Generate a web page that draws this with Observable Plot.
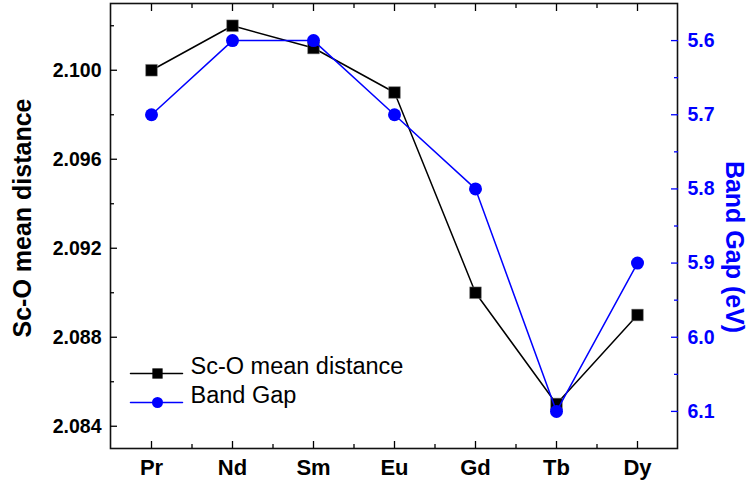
<!DOCTYPE html>
<html><head><meta charset="utf-8">
<script src="https://cdn.jsdelivr.net/npm/d3@7"></script>
<script src="https://cdn.jsdelivr.net/npm/@observablehq/plot@0.6"></script>
<style>
body{margin:0;background:#fff}
svg{font-family:"Liberation Sans",Arial,Helvetica,sans-serif}
</style>
</head><body><div id="chart"></div>
<script>
const elements = ["Pr","Nd","Sm","Eu","Gd","Tb","Dy"];
const scoDistance = [2.100,2.102,2.101,2.099,2.090,2.085,2.089];
const bandGap = [5.7,5.6,5.6,5.7,5.8,6.1,5.9];
const leftTicks = [2.084,2.088,2.092,2.096,2.100];
const leftMinor = [2.086,2.090,2.094,2.098,2.102];
const rightTicks = [5.6,5.7,5.8,5.9,6.0,6.1];
const rightMinor = [5.65,5.75,5.85,5.95,6.05];
const leftDomain = [2.083, 2.103];
const rightDomain = [5.55, 6.15];
const legendLabels = ["Sc-O mean distance","Band Gap"];
const leftTitle = "Sc-O mean distance";
const rightTitle = "Band Gap (eV)";

const W = 750, H = 483, ML = 110, MR = 73, MT = 3, MB = 35;
const step = (W - ML - MR) / elements.length;
const toY = d3.scaleLinear(rightDomain, [leftDomain[1], leftDomain[0]]);
const rows = elements.map((el, i) => ({el, sco: scoDistance[i], bg: bandGap[i]}));
const lineShape = {draw(ctx, l) { ctx.moveTo(0, 0); ctx.lineTo(0, -l); }};
const none = () => "";

const chart = Plot.plot({
  width: W, height: H,
  marginLeft: ML, marginRight: MR, marginTop: MT, marginBottom: MB,
  style: {color: "black", background: "white"},
  x: {type: "point", domain: elements, padding: 0.5},
  y: {domain: leftDomain},
  marks: [
    Plot.frame({stroke: "#111", strokeWidth: 1.6}),
    // left axis
    Plot.axisY(leftTicks, {anchor: "left", tickSize: -7, tickPadding: 16, tickFormat: d3.format(".3f"), fontSize: 19.5, fontWeight: "bold", label: null, strokeWidth: 1.3}),
    Plot.axisY(leftMinor, {anchor: "left", tickSize: -4, tickFormat: none, label: null, strokeWidth: 1.3}),
    // right axis
    Plot.axisY(rightTicks.map(toY), {anchor: "right", tickSize: -7, tickPadding: 17, tickFormat: d => d3.format(".1f")(toY.invert(d)), stroke: "blue", fill: "blue", fontSize: 19.5, fontWeight: "bold", label: null, strokeWidth: 1.3}),
    Plot.axisY(rightMinor.map(toY), {anchor: "right", tickSize: -4, tickFormat: none, stroke: "blue", label: null, strokeWidth: 1.3}),
    Plot.axisY([], {anchor: "right", line: true, tickSize: 0, stroke: "blue", strokeWidth: 1.8, label: null, tickFormat: none}),
    // bottom axis
    Plot.axisX(elements, {anchor: "bottom", tickSize: -7, tickPadding: 18, fontSize: 22, fontWeight: "bold", label: null, strokeWidth: 1.3}),
    Plot.axisX(elements.slice(0, -1), {anchor: "bottom", tickSize: -4, dx: step / 2, tickFormat: none, label: null, strokeWidth: 1.3}),
    // top axis
    Plot.axisX(elements, {anchor: "top", tickSize: -7, tickFormat: none, label: null, strokeWidth: 1.3}),
    Plot.axisX(elements.slice(0, -1), {anchor: "top", tickSize: -4, dx: step / 2, tickFormat: none, label: null, strokeWidth: 1.3}),
    // data
    Plot.line(rows, {x: "el", y: "sco", stroke: "black", strokeWidth: 1.5}),
    Plot.dot(rows, {x: "el", y: "sco", symbol: "square", r: 6.6, fill: "black", stroke: "#888", strokeWidth: 0.5}),
    Plot.line(rows, {x: "el", y: d => toY(d.bg), stroke: "blue", strokeWidth: 1.5}),
    Plot.dot(rows, {x: "el", y: d => toY(d.bg), symbol: "circle", r: 6.5, fill: "blue"}),
    // legend
    Plot.vector([0], {frameAnchor: "bottom-left", dx: 20, dy: -75, length: 52, rotate: 90, anchor: "start", shape: lineShape, stroke: "black", strokeWidth: 1.5}),
    Plot.dot([0], {frameAnchor: "bottom-left", dx: 47, dy: -75, symbol: "square", r: 5.8, fill: "black"}),
    Plot.vector([0], {frameAnchor: "bottom-left", dx: 20, dy: -46, length: 52, rotate: 90, anchor: "start", shape: lineShape, stroke: "blue", strokeWidth: 1.5}),
    Plot.dot([0], {frameAnchor: "bottom-left", dx: 47, dy: -46, symbol: "circle", r: 5.5, fill: "blue"}),
    Plot.text([legendLabels[0]], {text: d => d, frameAnchor: "bottom-left", dx: 80, dy: -75, textAnchor: "start", fontSize: 23.5, fill: "black"}),
    Plot.text([legendLabels[1]], {text: d => d, frameAnchor: "bottom-left", dx: 80, dy: -46, textAnchor: "start", fontSize: 23.5, fill: "black"}),
    // axis titles
    Plot.text([leftTitle], {text: d => d, frameAnchor: "left", textAnchor: "middle", dx: -88, dy: -8, rotate: -90, fontSize: 25, fontWeight: "bold", fill: "black"}),
    Plot.text([rightTitle], {text: d => d, frameAnchor: "right", textAnchor: "middle", dx: 56, dy: 21, rotate: 90, fontSize: 25, fontWeight: "bold", fill: "blue"})
  ]
});
document.getElementById("chart").appendChild(chart);
</script>
</body></html>
